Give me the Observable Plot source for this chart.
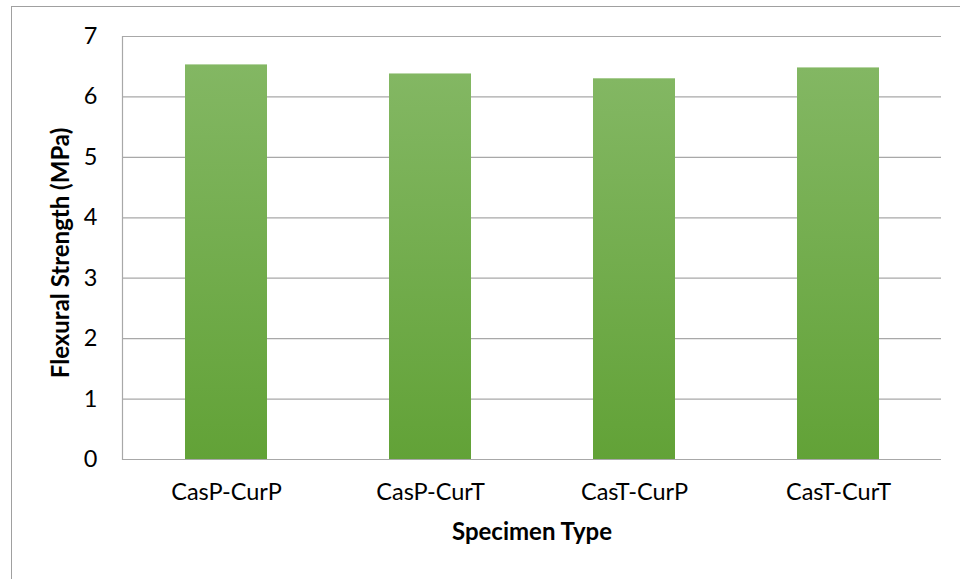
<!DOCTYPE html>
<html>
<head>
<meta charset="utf-8">
<script src="https://cdn.jsdelivr.net/npm/d3@7"></script>
<script src="https://cdn.jsdelivr.net/npm/@observablehq/plot@0.6"></script>
<style>
  html, body { margin: 0; padding: 0; background: #fff; overflow: hidden; }
  #wrap { position: relative; width: 960px; height: 579px; }
  #border { position: absolute; left: 11px; top: 6px; width: 980px; height: 600px;
            border-left: 1px solid #a0a0a0; border-top: 1px solid #a0a0a0; }
  #chart { position: absolute; left: 0; top: 0; }
  #chart svg { font-family: Lato, "Open Sans", sans-serif; }
</style>
</head>
<body>
<div id="wrap"><div id="border"></div><div id="chart"></div></div>
<script>
// Flexural strength by specimen type (casting / curing combination)
const specimenTypes = ["CasP-CurP", "CasP-CurT", "CasT-CurP", "CasT-CurT"];
const strengthMPa = [6.53, 6.38, 6.30, 6.48];
const yTicks = [0, 1, 2, 3, 4, 5, 6, 7];

const data = specimenTypes.map((type, i) => ({type, value: strengthMPa[i]}));

const chart = Plot.plot({
  width: 960,
  height: 579,
  marginLeft: 122,
  marginRight: 19,
  marginTop: 36,
  marginBottom: 120,
  style: {fontSize: "23px", color: "#000", background: "transparent"},
  x: {domain: specimenTypes, paddingInner: 0.6, paddingOuter: 0.3, label: null},
  y: {domain: [0, 7], label: null},
  marks: [
    Plot.gridY(yTicks, {stroke: "#a8a8a8", strokeOpacity: 1, strokeWidth: 1.2}),
    Plot.barY(data, {x: "type", y: "value", fill: "url(#barGradient)"}),
    Plot.ruleY([0], {stroke: "#a8a8a8", strokeWidth: 1.2}),
    Plot.frame({anchor: "left", stroke: "#a8a8a8", strokeWidth: 1.2}),
    Plot.axisY(yTicks, {tickSize: 0, tickPadding: 25, fontSize: 23.5, tickFormat: d => String(d), label: null}),
    Plot.axisX({tickSize: 0, tickPadding: 24, fontSize: 23.5, label: null}),
    Plot.text(["Flexural Strength (MPa)"], {frameAnchor: "left", textAnchor: "middle", dx: -61, dy: 5, rotate: -90, fontWeight: "bold", fontSize: 24}),
    Plot.text(["Specimen Type"], {frameAnchor: "bottom", textAnchor: "middle", dy: 80, fontWeight: "bold", fontSize: 24})
  ]
});

// Vertical fill gradient for the bars: lighter green at the top, deeper green at the base
const svg = d3.select(chart);
const grad = svg.insert("defs", ":first-child")
  .append("linearGradient")
  .attr("id", "barGradient")
  .attr("x1", 0).attr("y1", 0).attr("x2", 0).attr("y2", 1);
grad.append("stop").attr("offset", "0%").attr("stop-color", "#83b763");
grad.append("stop").attr("offset", "100%").attr("stop-color", "#62a237");

document.getElementById("chart").append(chart);
</script>
</body>
</html>
